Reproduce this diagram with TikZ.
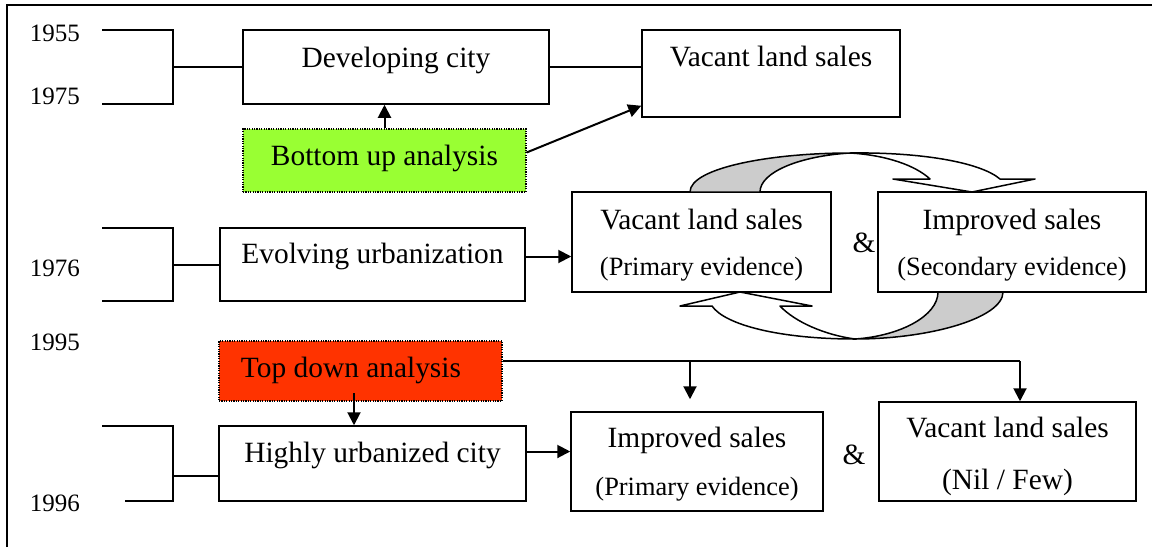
\documentclass[tikz,border=0pt]{standalone}
\usepackage{fontspec}
\setmainfont{Liberation Serif}
\usetikzlibrary{arrows.meta,fit}
\definecolor{upgreen}{RGB}{153,255,51}
\definecolor{downred}{RGB}{255,51,0}
\definecolor{shade}{RGB}{204,204,204}
\newcommand{\mainsz}{\fontsize{14.7}{17.6}\selectfont}
\newcommand{\notesz}{\fontsize{13.2}{15.8}\selectfont}
\newcommand{\yearsz}{\fontsize{12.5}{15}\selectfont}

\begin{document}
\begin{tikzpicture}[x=0.5pt,y=-0.5pt,
  box/.style={draw,line width=0.75pt,inner sep=0pt},
  analysis/.style={box,line width=0.6pt,dash pattern=on 0.6pt off 0.6pt},
  txt/.style={font=\mainsz,inner sep=0pt,align=center},
  year/.style={font=\yearsz,inner sep=0pt},
  link/.style={line width=0.75pt},
  arr/.style={line width=1pt,-{Triangle[length=6.5pt,width=6.5pt]}},
  band/.style={line width=0.75pt,line join=round}]
  \useasboundingbox (0,0) rectangle (1152,547);
  % frame
  \draw[line width=1pt] (7,547) -- (7,5) -- (1152,5);
  % years and brackets
  \node[year] (y55) at (55,33) {1955};
  \node[year] (y75) at (55,96) {1975};
  \node[year] (y76) at (55,268) {1976};
  \node[year] (y95) at (55,342) {1995};
  \node[year] (y96) at (55,503) {1996};
  \foreach \t/\b/\s in {30/104/102, 228/301/102, 426/501/125}
    \draw[link] (102,\t) -- (173,\t) -- (173,\b) -- (\s,\b);
  % boxes
  \node[box,fit={(243,30)(549,104)}] (dev) {};
  \node[txt] at (396,60) {Developing city};
  \node[box,fit={(642,30)(900,117)}] (vac) {};
  \node[txt] at (771,57) {Vacant land sales};
  \node[analysis,fill=upgreen,fit={(243,129)(526,192)}] (bu) {};
  \node[txt] at (384.5,158) {Bottom up analysis};
  \node[box,fit={(220,228)(525,301)}] (evo) {};
  \node[txt] at (372.5,256) {Evolving urbanization};
  \node[box,fit={(572,192)(831,292)}] (prim) {};
  \node[txt] at (701.5,245) {Vacant land sales\\[5.4pt]{\notesz (Primary evidence)}};
  \node[txt] (amp1) at (864,243) {\&};
  \node[box,fit={(878,192)(1146,292)}] (sec) {};
  \node[txt] at (1012,245) {Improved sales\\[5.4pt]{\notesz (Secondary evidence)}};
  \node[analysis,fill=downred,fit={(219,341)(502,401)}] (td) {};
  \node[txt] at (351,370) {Top down analysis};
  \node[box,fit={(219,426)(526,501)}] (hi) {};
  \node[txt] at (372.5,455) {Highly urbanized city};
  \node[box,fit={(571,412)(823,511)}] (imp) {};
  \node[txt] at (697,464) {Improved sales\\[6.4pt]{\notesz (Primary evidence)}};
  \node[txt] (amp2) at (854,455) {\&};
  \node[box,fit={(879,402)(1136,501)}] (nil) {};
  \node[txt] at (1007.5,456) {Vacant land sales\\[8.4pt](Nil / Few)};
  % bracket ends into the boxes
  \coordinate (m1) at (173,67);
  \coordinate (m2) at (173,265);
  \coordinate (m3) at (173,476);
  \draw[link] (m1) -- (m1 -| dev.west);
  \draw[link] (m2) -- (m2 -| evo.west);
  \draw[link] (m3) -- (m3 -| hi.west);
  % connectors
  \draw[link] (dev.east) -- (dev.east -| vac.west);
  \draw[arr] (bu.north) -- (bu.north |- dev.south);
  \draw[arr] ([yshift=4pt]bu.east) -- ([yshift=6pt]vac.south west);
  \coordinate (e1) at ([yshift=4pt]evo.east);
  \draw[arr] (e1) -- (e1 -| prim.west);
  \coordinate (e2) at ([yshift=6pt]hi.east);
  \draw[arr] (e2) -- (e2 -| imp.west);
  \coordinate (d1) at (354,393);
  \draw[arr] (d1) -- (d1 |- hi.north);
  \coordinate (t0) at ([yshift=5pt]td.east);
  \coordinate (t1) at (690,361);
  \coordinate (t2) at (1020,361);
  \coordinate (i1) at ([yshift=6pt]imp.north);
  \draw[line width=1pt] (t0) -- (t2);
  \draw[arr] (t1) -- (t1 |- i1);
  \draw[arr] (t2) -- (t2 |- nil.north);
  % curved arrows between the two kinds of sales
  \draw[band,fill=shade] (690,192) .. controls (690,168) and (770,153) .. (850,153)
    .. controls (800,156) and (760,172) .. (760,192) -- cycle;
  \draw[band,fill=white] (850,153) .. controls (920,152) and (980,162) .. (1000,179)
    -- (1035,179) -- (972,192) -- (893,179) -- (930,179)
    .. controls (915,165) and (885,155) .. (850,153) -- cycle;
  \draw[band,fill=shade] (1003,292) .. controls (1003,318) and (930,339) .. (855,339)
    .. controls (900,336) and (938,316) .. (938,292) -- cycle;
  \draw[band,fill=white] (855,339) .. controls (780,339) and (725,325) .. (712,306)
    -- (680,306) -- (740,292) -- (812,306) -- (780,306)
    .. controls (795,322) and (825,335) .. (855,339) -- cycle;
\end{tikzpicture}
\end{document}
